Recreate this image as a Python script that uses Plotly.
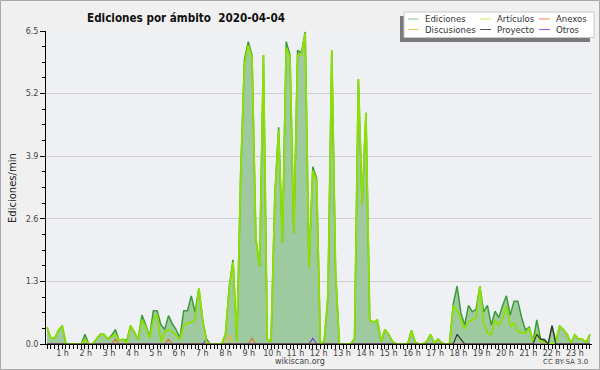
import plotly.graph_objects as go

# time of day, one point every 10 minutes (144 points)
minutes = list(range(0, 1440, 10))

ediciones = [
    0.35, 0.12, 0.12, 0.28, 0.38, 0, 0, 0, 0, 0,
    0.2, 0, 0, 0.1, 0.2, 0.2, 0.1, 0.18, 0.3, 0.07,
    0.1, 0.07, 0.38, 0.25, 0.1, 0.6, 0.4, 0.15, 0.69, 0.69,
    0.4, 0.3, 0.59, 0.42, 0.3, 0.12, 0.69, 0.69, 1.0, 0.66,
    1.16, 0.5, 0.1, 0, 0, 0, 0, 0.2, 1.2, 1.75,
    0.05, 3.5, 5.9, 6.28, 6.0, 2.2, 1.6, 6.0, 0.1, 0.05,
    3.1, 4.5, 2.1, 6.28, 6.0, 2.3, 6.1, 6.05, 6.48, 1.6,
    3.68, 3.45, 0, 0.05, 1.0, 6.1, 1.5, 0, 0, 0,
    0, 0.12, 5.5, 2.9, 4.8, 0.5, 0.45, 0.5, 0.05, 0.3,
    0.2, 0.05, 0, 0, 0, 0, 0.28, 0.03, 0, 0,
    0.05, 0.2, 0.02, 0.1, 0.02, 0, 0, 0.84, 1.2, 0.65,
    0.39, 0.8, 0.67, 0.72, 1.2, 0.67, 0.8, 0.39, 0.68, 0.55,
    0.8, 1.0, 0.6, 0.89, 0.89, 0.55, 0.29, 0.35, 0.05, 0.5,
    0.1, 0.1, 0, 0.38, 0.05, 0.37, 0.3, 0.2, 0.02, 0.19,
    0.1, 0.1, 0.03, 0.2,
]

articulos = [
    0.35, 0.12, 0.12, 0.28, 0.38, 0, 0, 0, 0, 0,
    0.1, 0, 0, 0.1, 0.2, 0.2, 0.1, 0.15, 0.2, 0.07,
    0.1, 0.02, 0.38, 0.25, 0.1, 0.5, 0.35, 0.12, 0.5, 0.62,
    0.05, 0.25, 0.3, 0.25, 0.18, 0.1, 0.4, 0.42, 0.45, 0.5,
    1.16, 0.5, 0.05, 0, 0, 0, 0, 0.2, 1.15, 1.7,
    0.05, 3.5, 5.8, 6.2, 5.95, 2.2, 1.6, 6.0, 0.1, 0.05,
    3.0, 4.45, 2.1, 6.15, 5.95, 2.3, 6.0, 6.0, 6.45, 1.6,
    3.6, 3.4, 0, 0.05, 1.0, 6.1, 1.5, 0, 0, 0,
    0, 0.12, 5.5, 2.9, 4.8, 0.5, 0.45, 0.5, 0.05, 0.3,
    0.2, 0.05, 0, 0, 0, 0, 0.28, 0.03, 0, 0,
    0.05, 0.2, 0.02, 0.1, 0.02, 0, 0, 0.8, 0.7, 0.5,
    0.32, 0.46, 0.5, 0.55, 1.2, 0.45, 0.22, 0.2, 0.5, 0.38,
    0.55, 0.79, 0.36, 0.43, 0.26, 0.24, 0.22, 0.33, 0.05, 0.25,
    0.05, 0.05, 0, 0, 0.05, 0.37, 0.3, 0.2, 0.02, 0.19,
    0.1, 0.1, 0.03, 0.2,
]

# sparse minor series: {index: value}
anexos_pts = {10: 0.1, 18: 0.1, 32: 0.1, 54: 0.12}
discusiones_pts = {48: 0.2}
proyecto_pts = {108: 0.2, 109: 0.1, 129: 0.2, 130: 0.1, 131: 0.08, 133: 0.38}
otros_pts = {42: 0.1, 70: 0.12}

hour_labels = [f"{h} h" for h in range(1, 24)]
y_ticks = [0.0, 1.3, 2.6, 3.9, 5.2, 6.5]

def expand(pts):
    return [pts.get(i, 0) for i in range(len(minutes))]

x = [m / 60 for m in minutes]

FONT = "DejaVu Sans"
CFONT = "DejaVu Sans Condensed, Liberation Sans Narrow, DejaVu Sans"
fig = go.Figure()

fig.add_trace(go.Scatter(x=x, y=ediciones, mode="lines", fill="tozeroy",
                         fillcolor="#9fc99f", line=dict(color="#3c9c3c", width=1.5),
                         name="Ediciones", showlegend=False))
for name, pts, col in [("Anexos", anexos_pts, "#e07030"),
                       ("Discusiones", discusiones_pts, "#f0c020"),
                       ("Otros", otros_pts, "#7040e0")]:
    fig.add_trace(go.Scatter(x=x, y=expand(pts), mode="lines",
                             line=dict(color=col, width=1.2), name=name, showlegend=False))
fig.add_trace(go.Scatter(x=x, y=articulos, mode="lines",
                         line=dict(color="#8ee000", width=1.8),
                         name="Artículos", showlegend=False))
fig.add_trace(go.Scatter(x=x, y=expand(proyecto_pts), mode="lines",
                         line=dict(color="#333333", width=1.2),
                         name="Proyecto", showlegend=False))

# label positions (labels sit slightly left of the hour mark in the reference)
label_pos = [0.68 + (h - 1) * 1.0223 for h in range(1, 24)]

fig.update_xaxes(range=[-0.044, 23.922], showgrid=False, zeroline=False,
                 showline=True, linecolor="black", linewidth=1,
                 tickvals=label_pos, ticktext=hour_labels,
                 ticks="outside", ticklen=1, tickcolor="rgba(0,0,0,0)",
                 tickfont=dict(family=FONT, size=8, color="#444"),
                 minor=dict(ticks="outside", dtick=1/6, tick0=0, ticklen=4,
                            tickcolor="black", tickwidth=1, showgrid=False),
                 layer="above traces")
fig.update_yaxes(range=[0, 6.5], showgrid=True, gridcolor="#cfcfcf", gridwidth=1,
                 zeroline=False, showline=True, linecolor="black", linewidth=1,
                 tickvals=y_ticks, ticktext=[f"{v:.1f}" for v in y_ticks],
                 ticks="outside", ticklen=5, tickcolor="black",
                 tickfont=dict(family=FONT, size=8, color="#444"),
                 minor=dict(ticks="outside", dtick=0.325, tick0=0, ticklen=3,
                            tickcolor="black", showgrid=False),
                 layer="above traces")

W, H = 600, 370
L, R, T, B = 46, 8, 31, 26
pw, ph = W - L - R, H - T - B

def px(xp):
    return (xp - L) / pw

def py(yp):
    return 1 - (yp - T) / ph

shapes = []
annotations = []

# outer frame
shapes.append(dict(type="rect", xref="paper", yref="paper",
                   x0=px(0.5), x1=px(599.5), y0=py(0.5), y1=py(369.5),
                   line=dict(color="#a8a8a8", width=1), layer="below"))

# legend box with shadow
shapes.append(dict(type="rect", xref="paper", yref="paper",
                   x0=px(400), x1=px(590), y0=py(16), y1=py(42),
                   fillcolor="#7a7a7a", line=dict(width=0)))
shapes.append(dict(type="rect", xref="paper", yref="paper",
                   x0=px(404), x1=px(594), y0=py(12), y1=py(37.5),
                   fillcolor="white", line=dict(color="#c8c8c8", width=1)))

legend_items = [
    ("Ediciones", "#88cc88", 408, 19), ("Artículos", "#c8ee55", 480, 19),
    ("Anexos", "#ee8855", 539, 19),
    ("Discusiones", "#f0d050", 408, 29.5), ("Proyecto", "#555555", 480, 29.5),
    ("Otros", "#9955ee", 539, 29.5),
]
for label, col, lx, ly in legend_items:
    shapes.append(dict(type="line", xref="paper", yref="paper",
                       x0=px(lx), x1=px(lx + 11), y0=py(ly), y1=py(ly),
                       line=dict(color=col, width=1)))
    annotations.append(dict(text=label, xref="paper", yref="paper",
                            x=px(lx + 15), y=py(ly), xanchor="left", yanchor="middle",
                            showarrow=False,
                            font=dict(family=CFONT, size=9.5, color="#333")))

# title
annotations.append(dict(text="<b>Ediciones por ámbito\u00a0\u00a02020-04-04</b>",
                        xref="paper", yref="paper", x=px(85), y=py(18),
                        xanchor="left", yanchor="middle", showarrow=False,
                        font=dict(family=CFONT, size=11.6, color="#111")))
# y title
annotations.append(dict(text="Ediciones/min", xref="paper", yref="paper",
                        x=px(12), y=py(188), textangle=-90,
                        xanchor="center", yanchor="middle", showarrow=False,
                        font=dict(family=FONT, size=10, color="#222")))
# footer
annotations.append(dict(text="wikiscan.org", xref="paper", yref="paper",
                        x=px(300), y=py(361), xanchor="center", yanchor="middle",
                        showarrow=False, font=dict(family=FONT, size=8, color="#444")))
annotations.append(dict(text="CC BY-SA 3.0", xref="paper", yref="paper",
                        x=px(590), y=py(362), xanchor="right", yanchor="middle",
                        showarrow=False, font=dict(family=FONT, size=7, color="#444")))

fig.update_layout(width=W, height=H,
                  margin=dict(l=L, r=R, t=T, b=B, pad=0),
                  paper_bgcolor="#f0f0f0", plot_bgcolor="#eef0f3",
                  showlegend=False, shapes=shapes, annotations=annotations)

fig.write_html("out.html", config={"displayModeBar": False},
               post_script="document.body.style.margin='0';document.body.style.overflow='hidden';")
